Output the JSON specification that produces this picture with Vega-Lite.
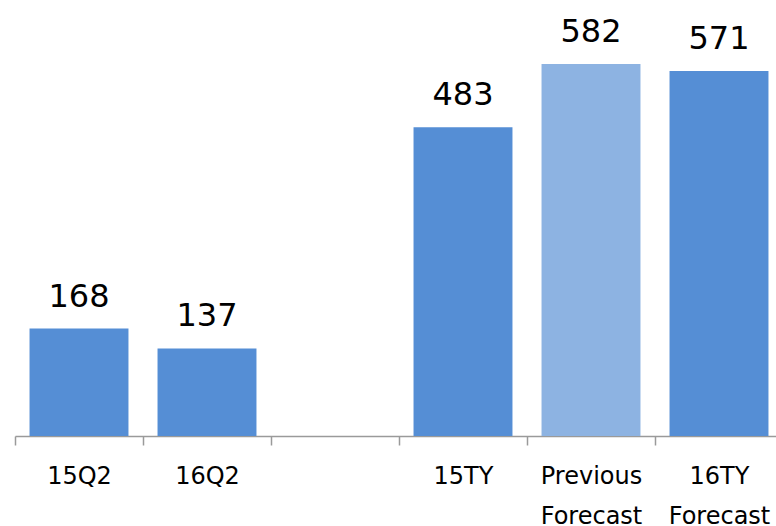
{
  "$schema": "https://vega.github.io/schema/vega-lite/v6.json",
  "autosize": "none",
  "padding": {"left": 15, "top": 0, "right": 0, "bottom": 90},
  "width": 768,
  "height": 436,
  "background": "white",
  "config": {"view": {"stroke": null}, "font": "DejaVu Sans"},
  "data": {"values": [
    {"cat": "15Q2", "value": 168, "kind": "actual"},
    {"cat": "16Q2", "value": 137, "kind": "actual"},
    {"cat": "15TY", "value": 483, "kind": "actual"},
    {"cat": "Previous|Forecast", "value": 582, "kind": "previous"},
    {"cat": "16TY|Forecast", "value": 571, "kind": "actual"}
  ]},
  "encoding": {
    "x": {
      "field": "cat", "type": "nominal", "sort": null,
      "scale": {"domain": ["15Q2", "16Q2", " ", "15TY", "Previous|Forecast", "16TY|Forecast"], "paddingInner": 0, "paddingOuter": 0},
      "axis": {
        "title": null, "labelAngle": 0, "tickBand": "extent",
        "domainColor": "#9A9A9A", "tickColor": "#9A9A9A", "tickSize": 9, "domainWidth": 1.5, "tickWidth": 1.5,
        "labelFont": "DejaVu Sans", "labelFontSize": 24, "labelColor": "#000000",
        "labelPadding": 19, "labelLineHeight": 40, "labelBaseline": "top",
        "labelExpr": "split(datum.label, '|')"
      }
    },
    "y": {"field": "value", "type": "quantitative", "scale": {"domain": [0, 682], "nice": false, "zero": true}, "axis": null}
  },
  "layer": [
    {
      "mark": {"type": "bar", "width": {"band": 0.773}},
      "encoding": {
        "color": {"field": "kind", "type": "nominal", "scale": {"domain": ["actual", "previous"], "range": ["#558ED5", "#8DB3E2"]}, "legend": null}
      }
    },
    {
      "mark": {"type": "text", "baseline": "alphabetic", "dy": -22, "fontSize": 32, "font": "DejaVu Sans", "color": "#000000"},
      "encoding": {"text": {"field": "value", "type": "quantitative"}}
    }
  ]
}
